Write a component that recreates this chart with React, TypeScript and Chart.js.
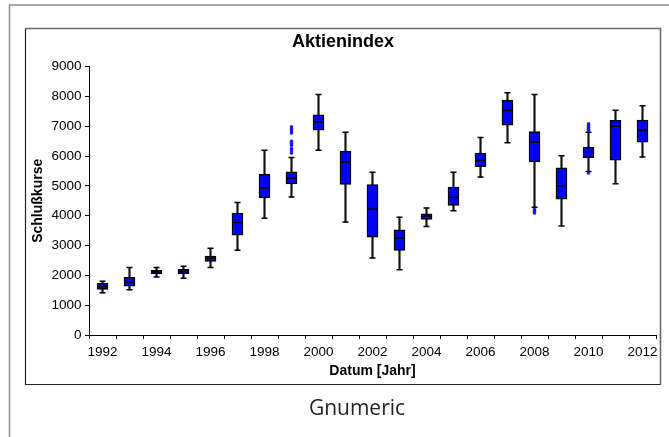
import React, { useEffect, useRef } from 'react';
import { Chart, registerables } from 'chart.js';

Chart.register(...registerables);

const years = ['1992', '1993', '1994', '1995', '1996', '1997', '1998', '1999', '2000', '2001', '2002',
  '2003', '2004', '2005', '2006', '2007', '2008', '2009', '2010', '2011', '2012'];
const whiskerLow = [1415, 1515, 1948, 1905, 2260, 2840, 3917, 4629, 6197, 3785, 2586, 2190, 3640, 4170, 5295, 6450, 4280, 3658, 5480, 5072, 5970];
const quartile1 = [1530, 1640, 2048, 2055, 2470, 3347, 4598, 5065, 6868, 5050, 3283, 2834, 3874, 4343, 5647, 7032, 5804, 4551, 5949, 5860, 6462];
const medians = [1630, 1765, 2110, 2148, 2570, 3775, 4930, 5256, 7137, 5796, 4222, 3250, 3990, 4612, 5863, 7539, 6464, 4994, 6155, 7000, 6868];
const quartile3 = [1730, 1930, 2170, 2200, 2650, 4090, 5395, 5468, 7380, 6167, 5045, 3530, 4064, 4960, 6097, 7876, 6820, 5605, 6298, 7202, 7206];
const whiskerHigh = [1800, 2260, 2260, 2305, 2908, 4445, 6195, 5948, 8061, 6800, 5458, 3952, 4255, 5458, 6620, 8119, 8067, 6007, 6800, 7535, 7687];
const outlierYears = ['1999', '1999', '1999', '1999', '1999', '1999', '1999', '1999', '1999', '1999',
  '2008', '2008', '2008', '2010', '2010', '2010', '2010', '2010', '2010'];
const outlierValues = [6980, 6910, 6840, 6770, 6500, 6430, 6360, 6250, 6180, 6100,
  4220, 4150, 4090, 7080, 7020, 6960, 6900, 6850, 5430];
const yMin = 0;
const yMax = 9000;
const yStep = 1000;

const FONT = "'Liberation Sans', Arial, sans-serif";

const framePlugin = {
  id: 'frames',
  beforeDraw(chart: any) {
    const { ctx, width, height } = chart;
    ctx.save();
    ctx.fillStyle = '#ffffff';
    ctx.fillRect(0, 0, width, height);
    ctx.strokeStyle = '#8c8c8c';
    ctx.lineWidth = 1.5;
    ctx.beginPath();
    ctx.moveTo(9.5, height);
    ctx.lineTo(9.5, 5);
    ctx.lineTo(width, 5);
    ctx.stroke();
    ctx.strokeStyle = '#6a6a6a';
    ctx.lineWidth = 1.6;
    ctx.beginPath();
    ctx.moveTo(25.5, 28.5);
    ctx.lineTo(660.5, 28.5);
    ctx.lineTo(660.5, 384.5);
    ctx.stroke();
    ctx.strokeStyle = '#222';
    ctx.lineWidth = 1.2;
    ctx.beginPath();
    ctx.moveTo(25.5, 28.5);
    ctx.lineTo(25.5, 384.5);
    ctx.lineTo(660.5, 384.5);
    ctx.stroke();
    ctx.restore();
  },
  afterDraw(chart: any) {
    const { ctx } = chart;
    ctx.save();
    ctx.fillStyle = '#222';
    ctx.font = "21px 'Open Sans', 'Noto Sans', sans-serif";
    ctx.textAlign = 'center';
    ctx.textBaseline = 'alphabetic';
    ctx.fillText('Gnumeric', 357, 415);
    ctx.restore();
  },
};

export default function App() {
  const canvasRef = useRef<HTMLCanvasElement | null>(null);

  useEffect(() => {
    document.body.style.margin = '0';
    const canvas = canvasRef.current;
    if (!canvas) return;
    const chart = new Chart(canvas, {
      type: 'bar',
      data: {
        labels: years,
        datasets: [
          {
            type: 'bar',
            label: 'whisker',
            data: years.map((_, i) => [whiskerLow[i], whiskerHigh[i]]) as any,
            backgroundColor: '#111',
            borderWidth: 0,
            barThickness: 1.5,
            grouped: false,
            order: 4,
          } as any,
          {
            type: 'bar',
            label: 'box',
            data: years.map((_, i) => [quartile1[i], quartile3[i]]) as any,
            backgroundColor: '#0000ff',
            borderColor: '#000',
            borderWidth: 1.5,
            borderSkipped: false,
            barThickness: 11,
            grouped: false,
            order: 3,
          } as any,
          {
            type: 'line',
            label: 'caps',
            data: years.flatMap((y, i) => [{ x: y, y: whiskerLow[i] }, { x: y, y: whiskerHigh[i] }]) as any,
            showLine: false,
            pointStyle: 'line',
            pointRadius: 3,
            pointHoverRadius: 3,
            pointBorderColor: '#000',
            pointBorderWidth: 1.5,
            order: 2,
          } as any,
          {
            type: 'line',
            label: 'median',
            data: medians,
            showLine: false,
            pointStyle: 'line',
            pointRadius: 5,
            pointHoverRadius: 5,
            pointBorderColor: '#000',
            pointBorderWidth: 1.5,
            order: 1,
          } as any,
          {
            type: 'line',
            label: 'outliers',
            data: outlierYears.map((y, i) => ({ x: y, y: outlierValues[i] })) as any,
            showLine: false,
            pointStyle: 'circle',
            pointRadius: 1.5,
            pointHoverRadius: 1.5,
            pointBackgroundColor: '#1010ff',
            pointBorderColor: '#1010ff',
            pointBorderWidth: 0.5,
            order: 0,
          } as any,
        ],
      },
      options: {
        animation: false,
        responsive: false,
        maintainAspectRatio: false,
        events: [],
        layout: { padding: { top: 20, left: 30, right: 13, bottom: 0 } },
        plugins: {
          legend: { display: false },
          tooltip: { enabled: false },
          title: {
            display: true,
            text: 'Aktienindex',
            color: '#000',
            font: { family: FONT, size: 18, weight: 'bold' },
            padding: { top: 11, bottom: 14 },
          },
        },
        scales: {
          x: {
            type: 'category',
            offset: true,
            afterFit: (scale: any) => { scale.height = 102; },
            grid: { offset: true, drawOnChartArea: false, drawTicks: true, tickLength: 4, color: '#000' },
            border: { color: '#000', width: 1 },
            ticks: {
              autoSkip: false,
              maxRotation: 0,
              minRotation: 0,
              padding: 5,
              color: '#000',
              font: { family: FONT, size: 13.5 },
              callback: function (this: any, value: any, index: number) {
                return index % 2 === 0 ? this.getLabelForValue(value) : '';
              },
            },
            title: {
              display: true,
              text: 'Datum [Jahr]',
              color: '#000',
              font: { family: FONT, size: 14, weight: 'bold' },
              padding: { top: 0, bottom: 57 },
            },
          },
          y: {
            type: 'linear',
            min: yMin,
            max: yMax,
            afterFit: (scale: any) => { scale.width = 59; },
            grid: { drawOnChartArea: false, drawTicks: true, tickLength: 4, color: '#000' },
            border: { color: '#000', width: 1 },
            ticks: {
              stepSize: yStep,
              padding: 3.5,
              color: '#000',
              font: { family: FONT, size: 13.5 },
              callback: (value: any) => String(value),
            },
            title: {
              display: true,
              text: 'Schlußkurse',
              color: '#000',
              font: { family: FONT, size: 14, weight: 'bold' },
              padding: { top: 0, bottom: 0 },
            },
          },
        },
      } as any,
      plugins: [framePlugin],
    });
    return () => chart.destroy();
  }, []);

  return (
    <div style={{ position: 'absolute', left: 0, top: 0, width: 669, height: 437 }}>
      <canvas ref={canvasRef} width={669} height={437} style={{ width: 669, height: 437, display: 'block' }} />
    </div>
  );
}
